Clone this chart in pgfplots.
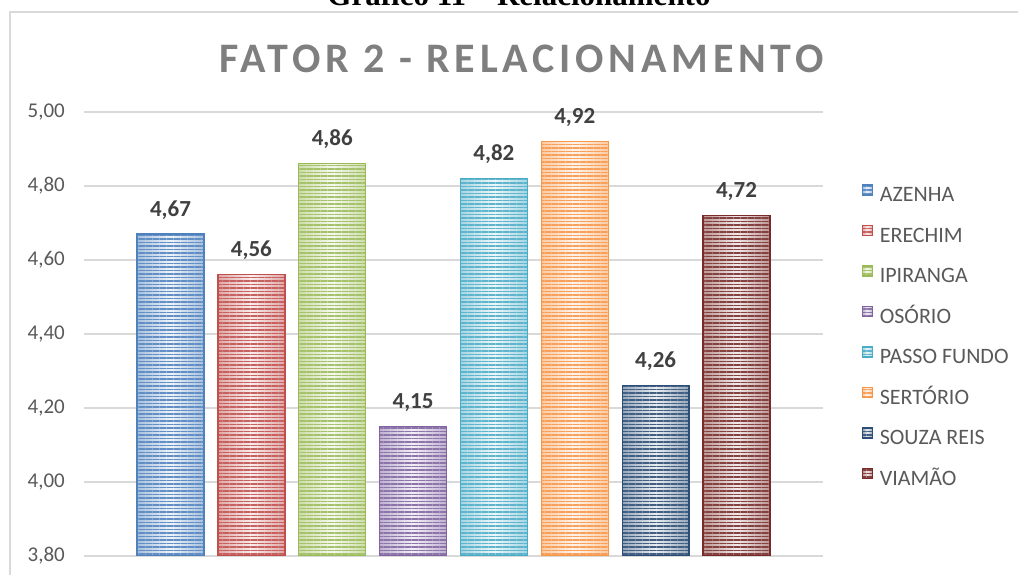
\documentclass[border=0pt]{standalone}
\usepackage{fontspec}
\setmainfont{Carlito}
\newfontfamily\titlefont[LetterSpace=11.5]{Carlito}
\newfontfamily\capfont{Liberation Serif}
\usepackage{pgfplots}
\pgfplotsset{compat=1.18}
\usetikzlibrary{patterns.meta}
\definecolor{cA}{HTML}{4F81BD}
\definecolor{cB}{HTML}{C0504D}
\definecolor{cC}{HTML}{9BBB59}
\definecolor{cD}{HTML}{8064A2}
\definecolor{cE}{HTML}{4BACC6}
\definecolor{cF}{HTML}{F79646}
\definecolor{cG}{HTML}{2C4D75}
\definecolor{cH}{HTML}{772C2A}
\definecolor{gridc}{HTML}{D9D9D9}
\definecolor{ticktxt}{HTML}{595959}
\definecolor{lbl}{HTML}{404040}
\definecolor{ttl}{HTML}{7F7F7F}
\pgfplotsset{
  patbar/.style={draw=#1, line width=1.4pt, bar shift=0pt,
    preaction={left color=#1!50!white, right color=#1!50!white, middle color=#1!10!white},
    pattern={Lines[angle=0,distance=3.5pt,line width=1.5pt]}, pattern color=#1!90!white},
}
\begin{document}
\begin{tikzpicture}
\useasboundingbox (0pt,0pt) rectangle (1018pt,575pt);
\clip (0pt,0pt) rectangle (1018pt,575pt);
\draw[gridc, line width=1.5pt] (10pt,-10pt) -- (10pt,563pt) -- (1030pt,563pt);
\node[anchor=base, font=\capfont\bfseries\fontsize{31pt}{36pt}\selectfont] at (519pt,569pt) {Gráfico 11 – Relacionamento};
\node[anchor=base, text=ttl, inner sep=0pt, font=\titlefont\bfseries\fontsize{42pt}{50pt}\selectfont] at (521.5pt,502.3pt) {FATOR 2 - RELACIONAMENTO};
\begin{axis}[
  at={(84pt,19pt)}, anchor=south west, scale only axis,
  width=739pt, height=444pt,
  ybar, bar width=0.827,
  xmin=-1.07, xmax=8.07, ymin=3.8, ymax=5.0,
  ytick={3.8,4.0,4.2,4.4,4.6,4.8,5.0},
  xtick=\empty,
  ymajorgrids, grid style={gridc, line width=1.3pt},
  axis line style={draw=none},
  major tick length=0pt,
  yticklabel style={font=\fontsize{21pt}{25pt}\selectfont, text=ticktxt, inner sep=0pt, xshift=-19pt},
  /pgf/number format/.cd, use comma, fixed, fixed zerofill, precision=2, assume math mode=true, /pgfplots/.cd,
  nodes near coords,
  every node near coord/.append style={font=\fontsize{23pt}{27pt}\selectfont\bfseries, text=lbl, inner sep=0pt, yshift=14pt},
  legend style={at={(1.0528,0.8362)}, anchor=north west, draw=none, fill=none, inner sep=0pt, outer sep=0pt,
    row sep=19.6pt, column sep=7pt, font=\fontsize{22pt}{26pt}\selectfont, text=ticktxt,
    nodes={inner sep=0pt, text height=14pt, text depth=4pt}},
  legend cell align=left,
  legend image code/.code={\draw[#1, line width=0.8pt] (0pt,1.5pt) rectangle (10pt,11.5pt);},
]
\addplot[patbar=cA] coordinates {(0,4.67)};
\addplot[patbar=cB] coordinates {(1,4.56)};
\addplot[patbar=cC] coordinates {(2,4.86)};
\addplot[patbar=cD] coordinates {(3,4.15)};
\addplot[patbar=cE] coordinates {(4,4.82)};
\addplot[patbar=cF] coordinates {(5,4.92)};
\addplot[patbar=cG] coordinates {(6,4.26)};
\addplot[patbar=cH] coordinates {(7,4.72)};
\legend{AZENHA,ERECHIM,IPIRANGA,OSÓRIO,PASSO FUNDO,SERTÓRIO,SOUZA REIS,VIAMÃO}
\end{axis}
\end{tikzpicture}
\end{document}
